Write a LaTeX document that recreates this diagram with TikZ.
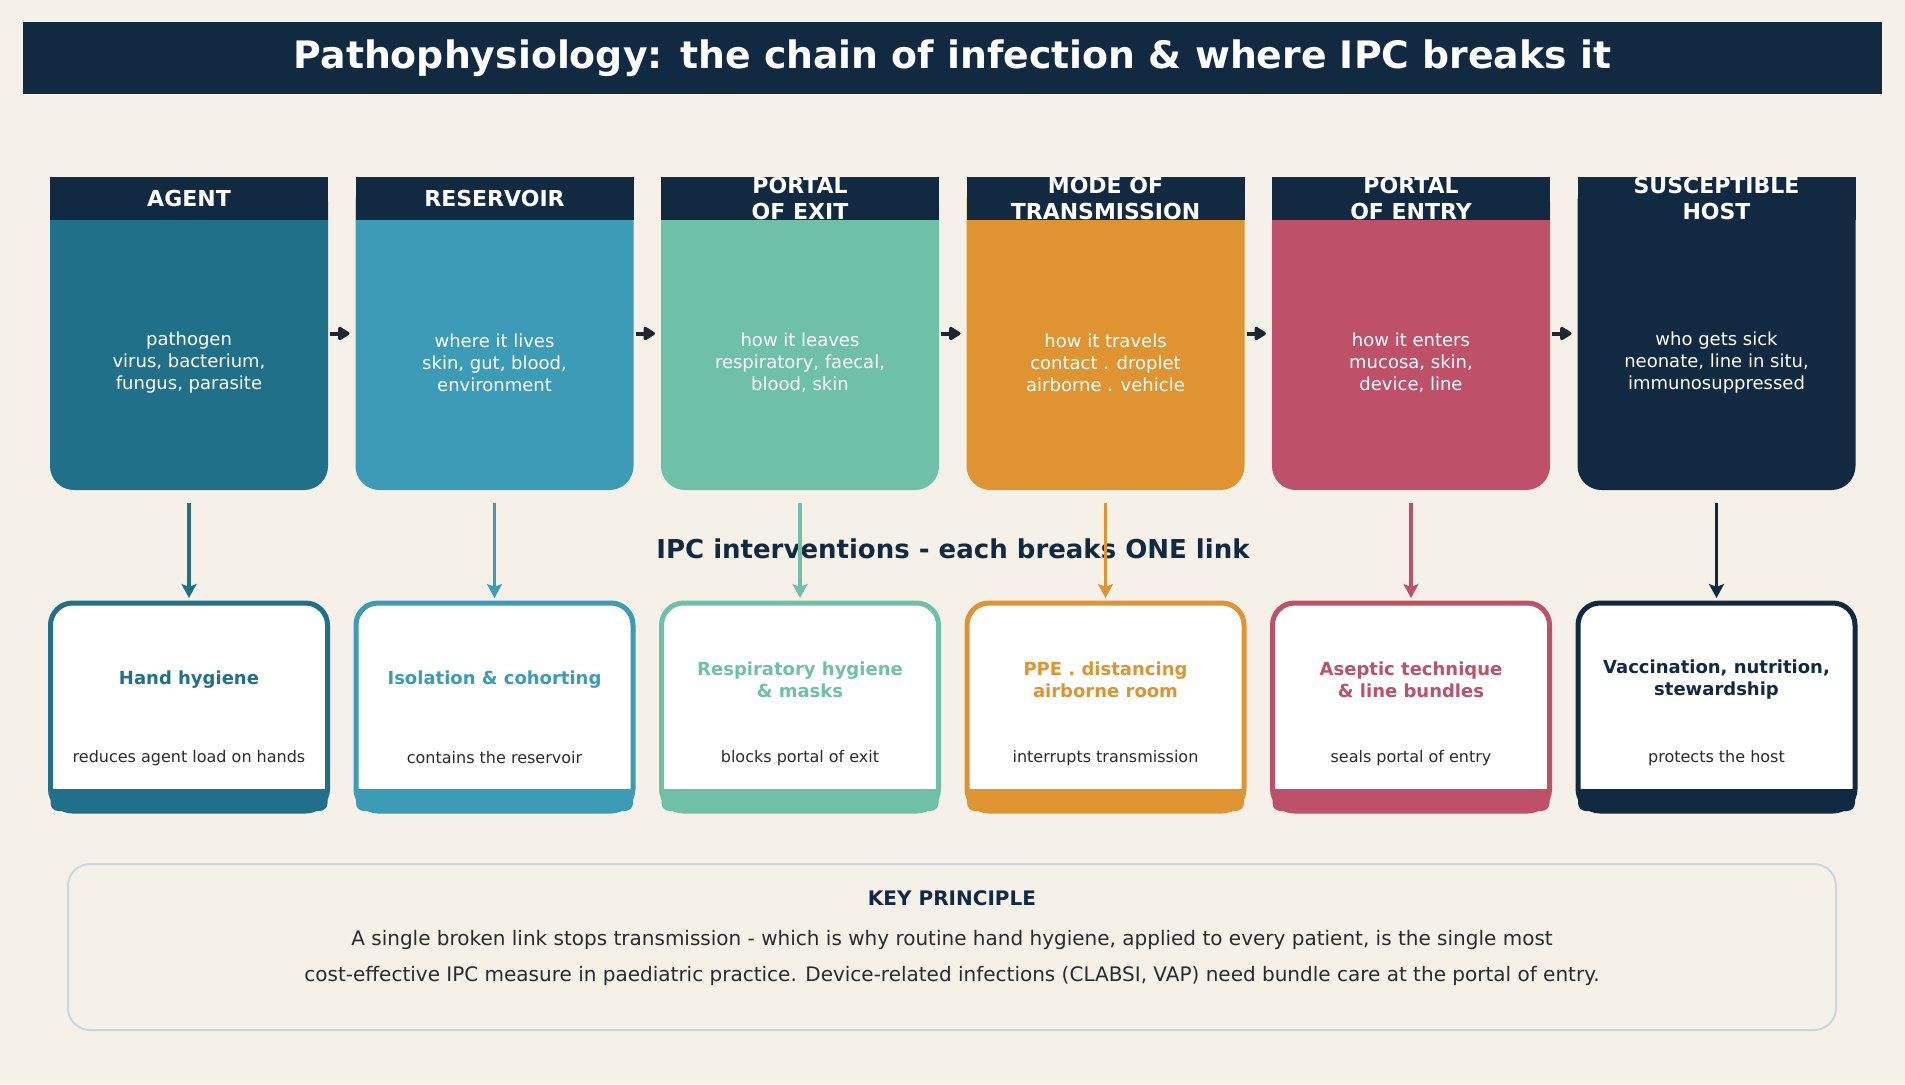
\documentclass[tikz,border=0pt]{standalone}
\usepackage{fontspec}
\setmainfont{DejaVu Sans}
\usetikzlibrary{positioning,arrows.meta}

\definecolor{bgc}{HTML}{F5F1E9}
\definecolor{navy}{HTML}{112A42}
\definecolor{agentc}{HTML}{21708A}
\definecolor{reservoirc}{HTML}{3C9BB7}
\definecolor{exitc}{HTML}{6EC1A6}
\definecolor{modec}{HTML}{E09431}
\definecolor{entryc}{HTML}{BE506A}
\definecolor{hostc}{HTML}{112A42}
\definecolor{keyline}{HTML}{CDD6DE}
\definecolor{inkc}{HTML}{2B2B2B}
\definecolor{chainc}{HTML}{1E2630}

\tikzset{
  link/.style={minimum width=139pt, minimum height=156.5pt, rounded corners=12pt, inner sep=0pt, outer sep=0pt},
  linkhead/.style={fill=navy, text=white, minimum width=139pt, minimum height=21.5pt, inner sep=0pt, outer sep=0pt, anchor=north, align=center, font=\fontsize{11}{12.75}\selectfont\bfseries},
  linktext/.style={text=white, align=center, font=\fontsize{9}{11}\selectfont},
  ipc/.style={draw, line width=2.5pt, fill=white, minimum width=138.5pt, minimum height=104pt, rounded corners=11pt, outer sep=0pt},
  ipctitle/.style={align=center, font=\fontsize{9}{11}\selectfont\bfseries},
  ipcnote/.style={text=inkc, font=\fontsize{8}{9}\selectfont},
  chainarrow/.style={chainc, line width=2pt, -{Triangle[length=6.5pt,width=7.5pt,round]}, shorten <=1pt, shorten >=3pt},
  breakarrow/.style={line width=1.6pt, -{Stealth[length=7pt,width=7.5pt,inset=1.5pt]}, shorten <=6.5pt, shorten >=2.5pt}
}

\begin{document}
\begin{tikzpicture}[node distance=13.75pt]
  \fill[bgc] (0,0) rectangle (952.5pt,-542pt);
  \useasboundingbox (0,0) rectangle (952.5pt,-542pt);

  \node[fill=navy, minimum width=929.5pt, minimum height=36pt, text=white, font=\fontsize{18.9}{21}\selectfont\bfseries] (title) at (476.25pt,-29pt) {Pathophysiology: the chain of infection \& where IPC breaks it};

  % chain of infection
  \node[link, fill=agentc] (agent) at (94.5pt,-166.75pt) {};
  \node[link, fill=reservoirc] (reservoir) [right=of agent] {};
  \node[link, fill=exitc] (exit) [right=of reservoir] {};
  \node[link, fill=modec] (mode) [right=of exit] {};
  \node[link, fill=entryc] (entry) [right=of mode] {};
  \node[link, fill=hostc] (host) [right=of entry] {};

  \node[linkhead] (agent_head) at (agent.north) {AGENT};
  \node[linkhead] (reservoir_head) at (reservoir.north) {RESERVOIR};
  \node[linkhead] (exit_head) at (exit.north) {PORTAL\\OF EXIT};
  \node[linkhead] (mode_head) at (mode.north) {MODE OF\\TRANSMISSION};
  \node[linkhead] (entry_head) at (entry.north) {PORTAL\\OF ENTRY};
  \node[linkhead] (host_head) at (host.north) {SUSCEPTIBLE\\HOST};

  \node[linktext] (agent_txt) at ([yshift=-14.75pt]agent.center) {pathogen\\virus, bacterium,\\fungus, parasite};
  \node[linktext] (reservoir_txt) at ([yshift=-14.75pt]reservoir.center) {where it lives\\skin, gut, blood,\\environment};
  \node[linktext] (exit_txt) at ([yshift=-14.75pt]exit.center) {how it leaves\\respiratory, faecal,\\blood, skin};
  \node[linktext] (mode_txt) at ([yshift=-14.75pt]mode.center) {how it travels\\contact . droplet\\airborne . vehicle};
  \node[linktext] (entry_txt) at ([yshift=-14.75pt]entry.center) {how it enters\\mucosa, skin,\\device, line};
  \node[linktext] (host_txt) at ([yshift=-14.75pt]host.center) {who gets sick\\neonate, line in situ,\\immunosuppressed};

  \draw[chainarrow] (agent.east) -- (reservoir.west);
  \draw[chainarrow] (reservoir.east) -- (exit.west);
  \draw[chainarrow] (exit.east) -- (mode.west);
  \draw[chainarrow] (mode.east) -- (entry.west);
  \draw[chainarrow] (entry.east) -- (host.west);

  \node[font=\fontsize{13}{15}\selectfont\bfseries, text=navy] (ipc_label) at (476.5pt,-274.5pt) {IPC interventions - each breaks ONE link};

  % IPC interventions
  \node[ipc, draw=agentc] (hand) [below=56.5pt of agent] {};
  \node[ipc, draw=reservoirc] (isolation) [below=56.5pt of reservoir] {};
  \node[ipc, draw=exitc] (masks) [below=56.5pt of exit] {};
  \node[ipc, draw=modec] (ppe) [below=56.5pt of mode] {};
  \node[ipc, draw=entryc] (aseptic) [below=56.5pt of entry] {};
  \node[ipc, draw=hostc] (vaccine) [below=56.5pt of host] {};

  \fill[agentc] ([yshift=11pt]hand.south west) [rounded corners=4pt] -- (hand.south west) -- (hand.south east) [sharp corners] -- ([yshift=11pt]hand.south east) -- cycle;
  \fill[reservoirc] ([yshift=11pt]isolation.south west) [rounded corners=4pt] -- (isolation.south west) -- (isolation.south east) [sharp corners] -- ([yshift=11pt]isolation.south east) -- cycle;
  \fill[exitc] ([yshift=11pt]masks.south west) [rounded corners=4pt] -- (masks.south west) -- (masks.south east) [sharp corners] -- ([yshift=11pt]masks.south east) -- cycle;
  \fill[modec] ([yshift=11pt]ppe.south west) [rounded corners=4pt] -- (ppe.south west) -- (ppe.south east) [sharp corners] -- ([yshift=11pt]ppe.south east) -- cycle;
  \fill[entryc] ([yshift=11pt]aseptic.south west) [rounded corners=4pt] -- (aseptic.south west) -- (aseptic.south east) [sharp corners] -- ([yshift=11pt]aseptic.south east) -- cycle;
  \fill[hostc] ([yshift=11pt]vaccine.south west) [rounded corners=4pt] -- (vaccine.south west) -- (vaccine.south east) [sharp corners] -- ([yshift=11pt]vaccine.south east) -- cycle;

  \node[ipctitle, text=agentc] (hand_title) at ([yshift=13.5pt]hand.center) {Hand hygiene};
  \node[ipctitle, text=reservoirc] (isolation_title) at ([yshift=13.5pt]isolation.center) {Isolation \& cohorting};
  \node[ipctitle, text=exitc] (masks_title) at ([yshift=13.5pt]masks.center) {Respiratory hygiene\\\& masks};
  \node[ipctitle, text=modec] (ppe_title) at ([yshift=13.5pt]ppe.center) {PPE . distancing\\airborne room};
  \node[ipctitle, text=entryc] (aseptic_title) at ([yshift=13.5pt]aseptic.center) {Aseptic technique\\\& line bundles};
  \node[ipctitle, text=hostc] (vaccine_title) at ([yshift=13.5pt]vaccine.center) {Vaccination, nutrition,\\stewardship};

  \node[ipcnote] (hand_note) at ([yshift=-25.5pt]hand.center) {reduces agent load on hands};
  \node[ipcnote] (isolation_note) at ([yshift=-25.5pt]isolation.center) {contains the reservoir};
  \node[ipcnote] (masks_note) at ([yshift=-25.5pt]masks.center) {blocks portal of exit};
  \node[ipcnote] (ppe_note) at ([yshift=-25.5pt]ppe.center) {interrupts transmission};
  \node[ipcnote] (aseptic_note) at ([yshift=-25.5pt]aseptic.center) {seals portal of entry};
  \node[ipcnote] (vaccine_note) at ([yshift=-25.5pt]vaccine.center) {protects the host};

  \draw[breakarrow, agentc] (agent.south) -- (hand.north);
  \draw[breakarrow, reservoirc] (reservoir.south) -- (isolation.north);
  \draw[breakarrow, exitc] (exit.south) -- (masks.north);
  \draw[breakarrow, modec] (mode.south) -- (ppe.north);
  \draw[breakarrow, entryc] (entry.south) -- (aseptic.north);
  \draw[breakarrow, hostc] (host.south) -- (vaccine.north);

  % key principle
  \node[draw=keyline, line width=1pt, rounded corners=11pt, minimum width=884pt, minimum height=83pt] (key) at (476pt,-473.5pt) {};
  \node[font=\fontsize{10}{12}\selectfont\bfseries, text=navy] (key_title) at (476pt,-449pt) {KEY PRINCIPLE};
  \node[align=center, text=inkc, font=\fontsize{10}{17.6}\selectfont] (key_txt) at (476pt,-479pt) {A single broken link stops transmission - which is why routine hand hygiene, applied to every patient, is the single most\\cost-effective IPC measure in paediatric practice. Device-related infections (CLABSI, VAP) need bundle care at the portal of entry.};
\end{tikzpicture}
\end{document}
